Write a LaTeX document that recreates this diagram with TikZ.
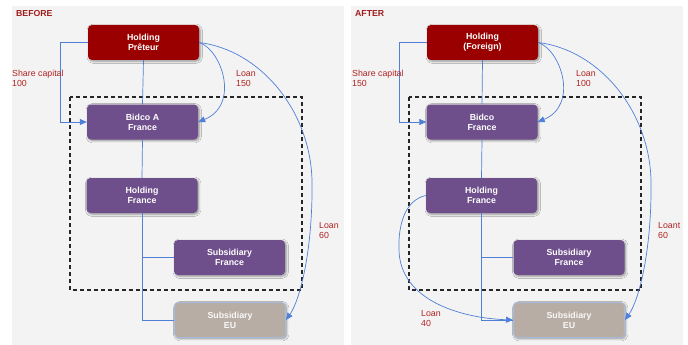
\documentclass[tikz,border=0pt]{standalone}
\usepackage{fontspec}
\setmainfont{Liberation Sans}
\usetikzlibrary{arrows.meta,shadows.blur}
\definecolor{panelgray}{HTML}{F3F3F3}
\definecolor{holdred}{HTML}{9A0000}
\definecolor{entpurple}{HTML}{6E4E8B}
\definecolor{eutaupe}{HTML}{B8ADA4}
\definecolor{euborder}{HTML}{A6BBDA}
\definecolor{linkblue}{HTML}{4F7FD6}
\definecolor{labelred}{HTML}{B22222}
\definecolor{titlered}{HTML}{A01C1C}
\tikzset{
  entity/.style={rectangle, rounded corners=4pt, minimum width=111pt, minimum height=35pt,
    align=center, text=white, inner sep=0pt,
    font=\fontsize{8.8}{10}\selectfont\bfseries,
    blur shadow={shadow xshift=1.2pt, shadow yshift=-1.2pt, shadow blur steps=6, shadow opacity=40}},
  parent/.style={entity, fill=holdred},
  french/.style={entity, fill=entpurple},
  foreign/.style={entity, fill=eutaupe, draw=euborder, line width=1pt, text=white!92!eutaupe},
  tree/.style={draw=linkblue, line width=0.7pt},
  flow/.style={draw=linkblue, line width=0.7pt, -{Triangle[length=7pt,width=6pt]}},
  amount/.style={anchor=north west, align=left, inner sep=0pt, text=labelred,
    font=\fontsize{8.8}{10}\selectfont},
  heading/.style={anchor=west, inner sep=0pt, text=titlered, font=\fontsize{8.7}{10}\selectfont\bfseries},
  perimeter/.style={draw=black!85, line width=1.1pt, dash pattern=on 4pt off 3pt},
}
\begin{document}
\begin{tikzpicture}[x=1pt, y=-1pt]
\useasboundingbox (0,0) rectangle (688,345);
% panel backgrounds
\fill[panelgray] (12,6) rectangle (344,345);
\fill[panelgray] (351,6) rectangle (683,345);

% ---------- BEFORE ----------
\node[heading] (tb) at (16,14) {BEFORE};
\draw[perimeter] (70,97) rectangle (302,290);
\node[parent]  (hp) at (143.5,42.5) {Holding\\Prêteur};
\node[french]  (ba) at (142.5,122) {Bidco A\\France};
\node[french]  (hf) at (142,195.5) {Holding\\France};
\node[french]  (sf) at (229.5,257.5) {Subsidiary\\France};
\node[foreign] (se) at (230,320) {Subsidiary\\EU};

\draw[tree] (hp.south) -- (ba.north);
\draw[tree] (ba.south) -- (hf.north);
\draw[tree] (hf.south) |- (sf.west);
\draw[tree] (hf.south) |- (se.west);
\draw[flow] (hp.west) -- ++(-27,0) |- (ba.west);
\draw[flow] (hp.east) .. controls (222,50) and (240,105) .. (ba.east);
\draw[flow] (hp.east) .. controls (260,50) and (310,110) .. (312,180)
  .. controls (313,250) and (300,300) .. (se.east);

\node[amount] (sc1) at (12,70) {Share capital\\100};
\node[amount] (l1)  at (236,70) {Loan\\150};
\node[amount] (l2)  at (319,222) {Loan\\60};

% ---------- AFTER ----------
\node[heading] (ta) at (355,14) {AFTER};
\draw[perimeter] (409,97) rectangle (641,290);
\node[parent]  (hp2) at (482.5,42.5) {Holding\\(Foreign)};
\node[french]  (bb)  at (482,122) {Bidco\\France};
\node[french]  (hf2) at (481.5,195.5) {Holding\\France};
\node[french]  (sf2) at (569,257.5) {Subsidiary\\France};
\node[foreign] (se2) at (569,320) {Subsidiary\\EU};

\draw[tree] (hp2.south) -- (bb.north);
\draw[tree] (bb.south) -- (hf2.north);
\draw[tree] (hf2.south) |- (sf2.west);
\draw[tree] (hf2.south) |- (se2.west);
\draw[flow] (hp2.west) -- ++(-27,0) |- (bb.west);
\draw[flow] (hp2.east) .. controls (561,50) and (579,105) .. (bb.east);
\draw[flow] (hp2.east) .. controls (599,50) and (649,110) .. (651,180)
  .. controls (652,250) and (639,300) .. (se2.east);
\draw[flow] (hf2.west) .. controls (405,200) and (398,225) .. (399,250)
  .. controls (400,300) and (460,318) .. (se2.west);

\node[amount] (sc2) at (352,70) {Share capital\\150};
\node[amount] (l3)  at (576,70) {Loan\\100};
\node[amount] (l4)  at (658,222) {Loant\\60};
\node[amount] (l5)  at (421,310) {Loan\\40};
\end{tikzpicture}
\end{document}
